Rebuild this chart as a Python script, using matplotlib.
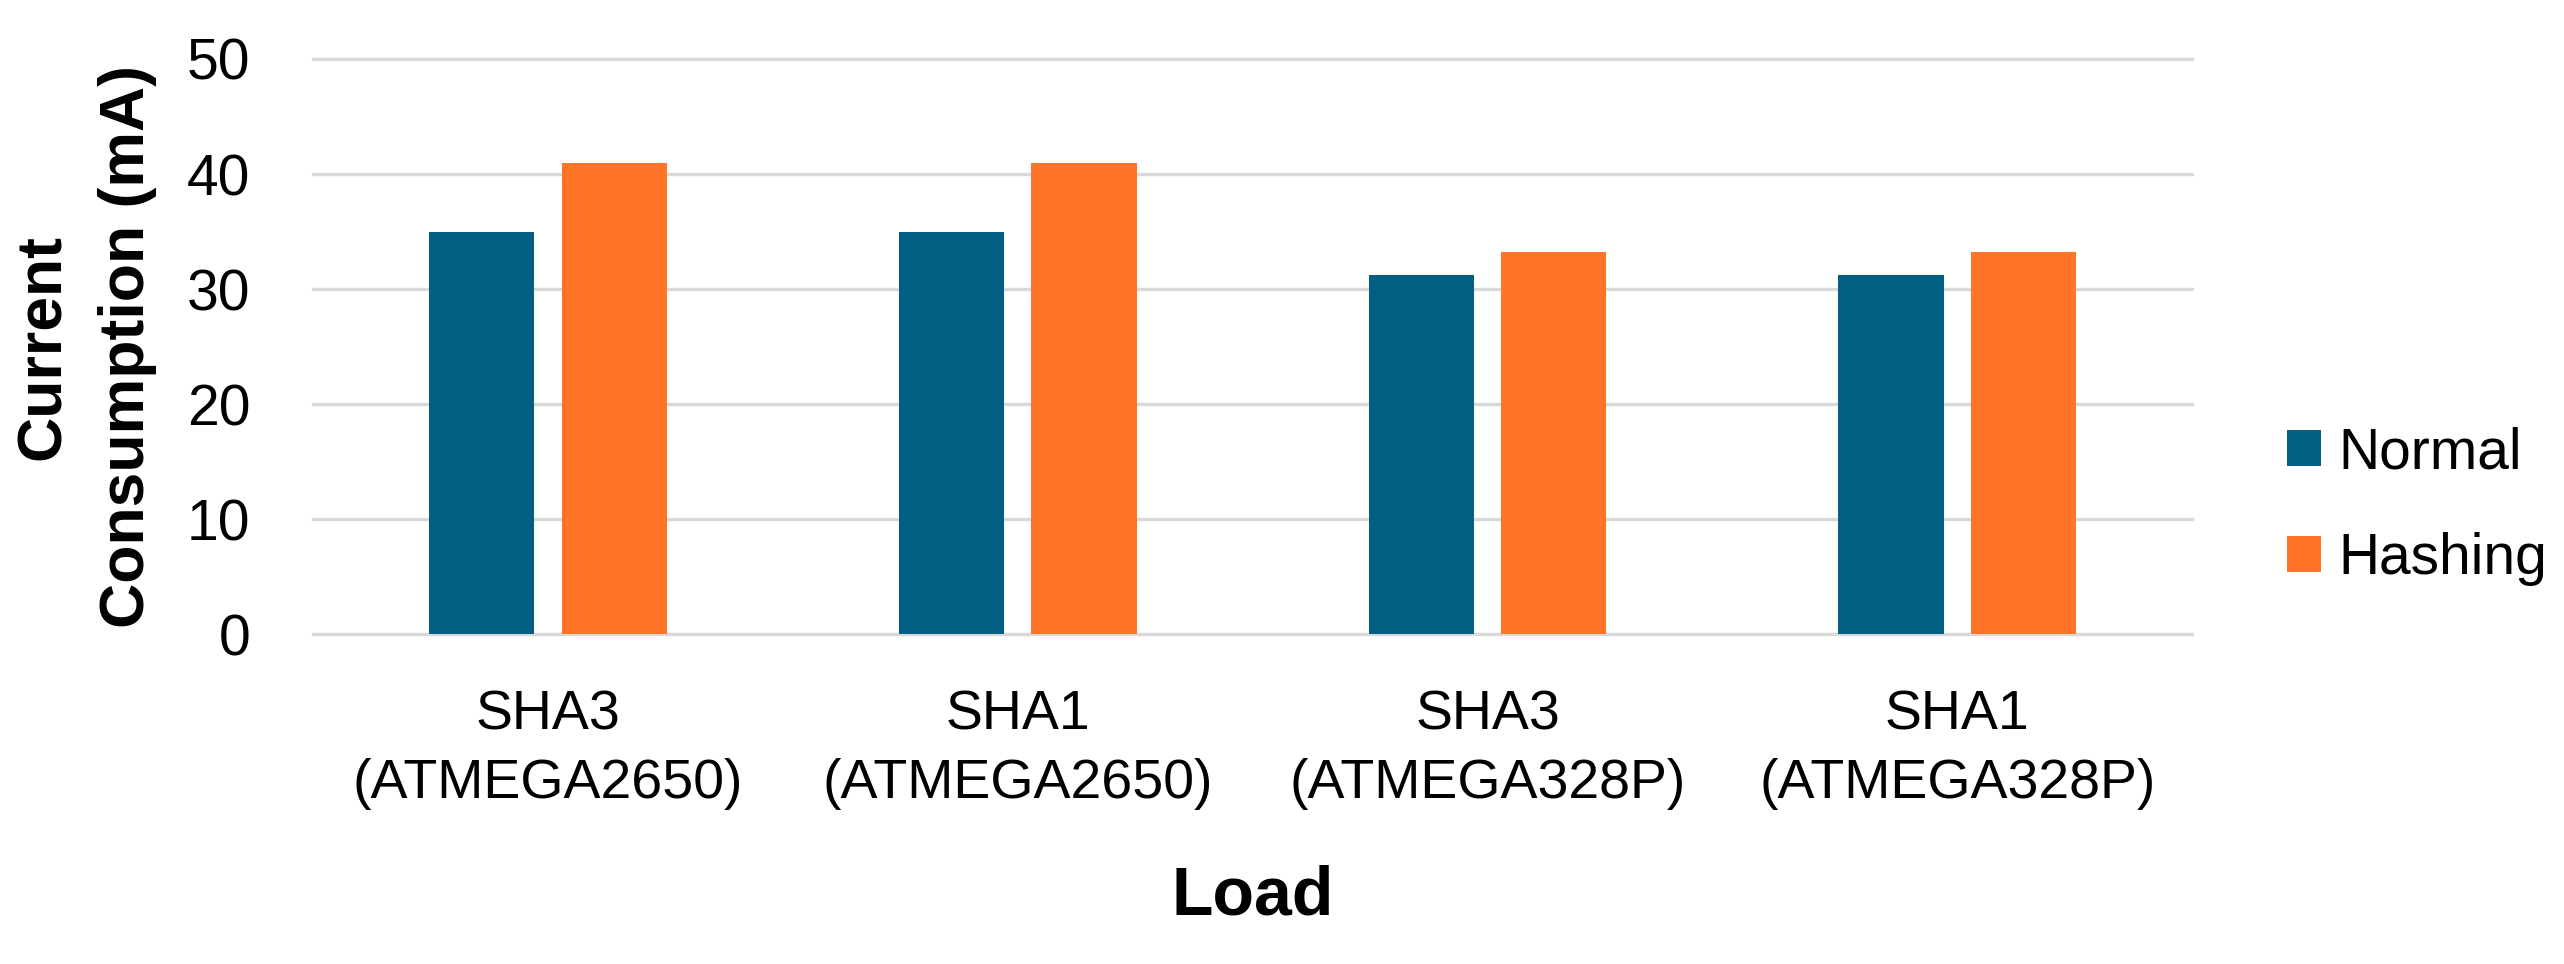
import matplotlib
matplotlib.use("Agg")
from matplotlib import pyplot as plt
import numpy as np

# data
loads = ["SHA3\n(ATMEGA2650)", "SHA1\n(ATMEGA2650)", "SHA3\n(ATMEGA328P)", "SHA1\n(ATMEGA328P)"]
normal = [35, 35, 31.2, 31.2]
hashing = [41, 41, 33.2, 33.2]
series_names = ["Normal", "Hashing"]
yticks = [0, 10, 20, 30, 40, 50]

blue = "#005F83"
orange = "#FF7429"
grid_col = "#D9D9D9"

plt.rcParams["font.family"] = ["Liberation Sans", "DejaVu Sans"]

fig = plt.figure(figsize=(25.64, 9.64), dpi=100)
ax = fig.add_axes([0.1221, 0.3423, 0.7329, 0.5965])

x = np.arange(len(loads))
w = 0.224
off = 0.141
ax.bar(x - off, normal, w, color=blue, label=series_names[0], zorder=3)
ax.bar(x + off, hashing, w, color=orange, label=series_names[1], zorder=3)

ax.set_xlim(-0.5, len(loads) - 0.5)
ax.set_ylim(0, 50)
ax.set_yticks(yticks)
ax.set_xticks(x)
ax.set_xticklabels(loads, fontsize=40, linespacing=1.4)
ax.tick_params(axis="y", labelsize=41, length=0, pad=45)
ax.tick_params(axis="x", length=0, pad=40)

ax.grid(axis="y", color=grid_col, linewidth=2.4, zorder=0)
for gl in ax.get_ygridlines():
    gl.set_clip_on(False)
for s in ax.spines.values():
    s.set_visible(False)

ax.set_ylabel("Current\nConsumption (mA)", fontsize=45, fontweight="bold",
              linespacing=1.55)
ax.yaxis.set_label_coords(-0.083, 0.5)
ax.set_xlabel("Load", fontsize=49, fontweight="bold")
ax.xaxis.set_label_coords(0.5, -0.40)

fig.legend(loc="center left", bbox_to_anchor=(0.892, 0.475), frameon=False,
           fontsize=41, handlelength=0.6, handleheight=0.6, handletextpad=0.3,
           labelspacing=0.9, borderpad=0, borderaxespad=0)

fig.savefig("out.png", dpi=100)
